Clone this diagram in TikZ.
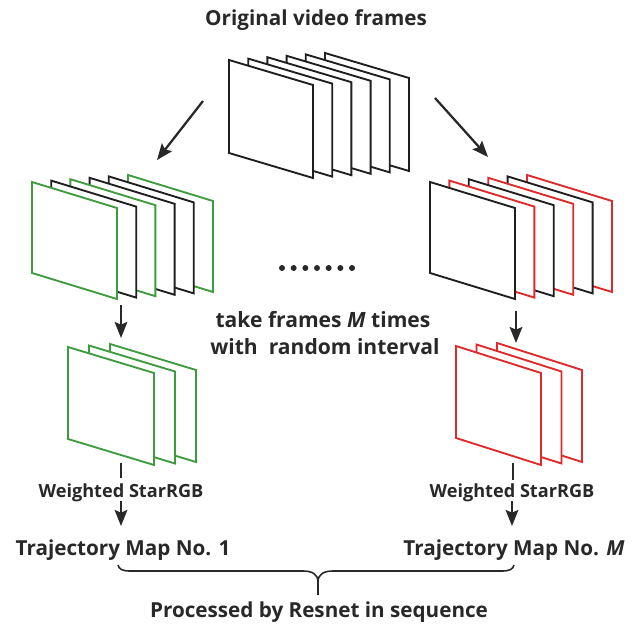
\documentclass[tikz,border=0pt]{standalone}
\usepackage{fontspec}
\setmainfont{Open Sans}
\usetikzlibrary{arrows.meta}
\definecolor{fgreen}{RGB}{62,155,62}
\definecolor{fred}{RGB}{222,42,42}
\definecolor{fblk}{RGB}{30,30,30}
\definecolor{ftxt}{RGB}{40,40,40}
\begin{document}
\begin{tikzpicture}[x=0.75pt,y=-0.75pt,
 frm/.style={line width=1.4pt, fill=white, line join=miter},
 arr/.style={line width=1.7pt, draw=ftxt, -{Stealth[length=12pt,width=9.5pt,inset=2pt]}},
 tickln/.style={line width=1.7pt, draw=ftxt},
 brc/.style={line width=1.2pt, draw=ftxt},
 lbl/.style={font=\bfseries\fontsize{15.5}{18}\selectfont, text=ftxt, inner sep=0pt},
 mid/.style={font=\bfseries\fontsize{15.8}{18}\selectfont, text=ftxt, inner sep=0pt},
 sml/.style={font=\bfseries\fontsize{13.6}{16}\selectfont, text=ftxt, inner sep=0pt}]

\useasboundingbox (0,0) rectangle (639,628);

% top stack of original frames
\foreach \i in {5,4,...,0}
  \filldraw[frm, draw=fblk] ({229+19.2*\i},{60-1.4*\i}) -- ++(84,25) -- ++(0,93) -- ++(-84,-25) -- cycle;

% left sampled stack
\foreach \i/\c in {5/fgreen,4/fblk,3/fblk,2/fgreen,1/fblk,0/fgreen}
  \filldraw[frm, draw=\c] ({32+19.2*\i},{182-1.4*\i}) -- ++(85,26) -- ++(0,91) -- ++(-85,-26) -- cycle;

% right sampled stack
\foreach \i/\c in {5/fred,4/fblk,3/fred,2/fblk,1/fred,0/fblk}
  \filldraw[frm, draw=\c] ({430+19.4*\i},{182-1.4*\i}) -- ++(85,26) -- ++(0,91) -- ++(-85,-26) -- cycle;

% left middle stack
\foreach \i in {2,1,0}
  \filldraw[frm, draw=fgreen] ({68+21*\i},{347-1.5*\i}) -- ++(86,26) -- ++(0,92) -- ++(-86,-26) -- cycle;

% right middle stack
\foreach \i in {2,1,0}
  \filldraw[frm, draw=fred] ({456+20.5*\i},{346-1.5*\i}) -- ++(85,27) -- ++(0,92) -- ++(-85,-27) -- cycle;

% dots
\foreach \i in {0,...,6}
  \fill[ftxt] ({282+11.67*\i},268) circle (3);

% texts
\node[lbl] (title) at (316,20) {Original video frames};
\node[mid] (take1) at (323,320) {take frames \textit{M} times};
\node[mid] (take2) at (325,347) {with\ \ random interval};
\node[sml] (w1) at (121,493) {Weighted StarRGB};
\node[sml] (w2) at (512,493) {Weighted StarRGB};
\node[lbl] (t1) at (123,550) {Trajectory Map No. 1};
\node[lbl] (t2) at (514,550) {Trajectory Map No. \textit{M}};
\node[lbl] (proc) at (319,612) {Processed by Resnet in sequence};

% connector coordinates
\coordinate (d1s) at (203,101);
\coordinate (d1e) at (157,160);
\coordinate (d2s) at (435,98);
\coordinate (d2e) at (488,157);
\coordinate (v1s) at (121,305);
\coordinate (v1e) at (121,338);
\coordinate (v2s) at (516,311);
\coordinate (v2e) at (516,343);
\coordinate (k1s) at (121,463);
\coordinate (k1e) at (121,478);
\coordinate (k2s) at (513,463);
\coordinate (k2e) at (513,480);
\coordinate (a1s) at (121,501);
\coordinate (a1e) at (121,526);
\coordinate (a2s) at (512,501);
\coordinate (a2e) at (512,526);

\draw[arr] (d1s) -- (d1e);
\draw[arr] (d2s) -- (d2e);
\draw[arr] (v1s) -- (v1e);
\draw[arr] (v2s) -- (v2e);
\draw[tickln] (k1s) -- (k1e);
\draw[tickln] (k2s) -- (k2e);
\draw[arr] (a1s) -- (a1e);
\draw[arr] (a2s) -- (a2e);

% brace
\coordinate (bl) at (118,565);
\coordinate (br) at (514,565);
\coordinate (bt) at (318,595);
\draw[brc] (bl) .. controls (119,569) and (122,571) .. (130,571) -- (303,571) .. controls (312,571) and (318,574) .. (318,582) -- (bt);
\draw[brc] (br) .. controls (513,569) and (510,571) .. (502,571) -- (333,571) .. controls (324,571) and (318,574) .. (318,582);
\end{tikzpicture}
\end{document}
